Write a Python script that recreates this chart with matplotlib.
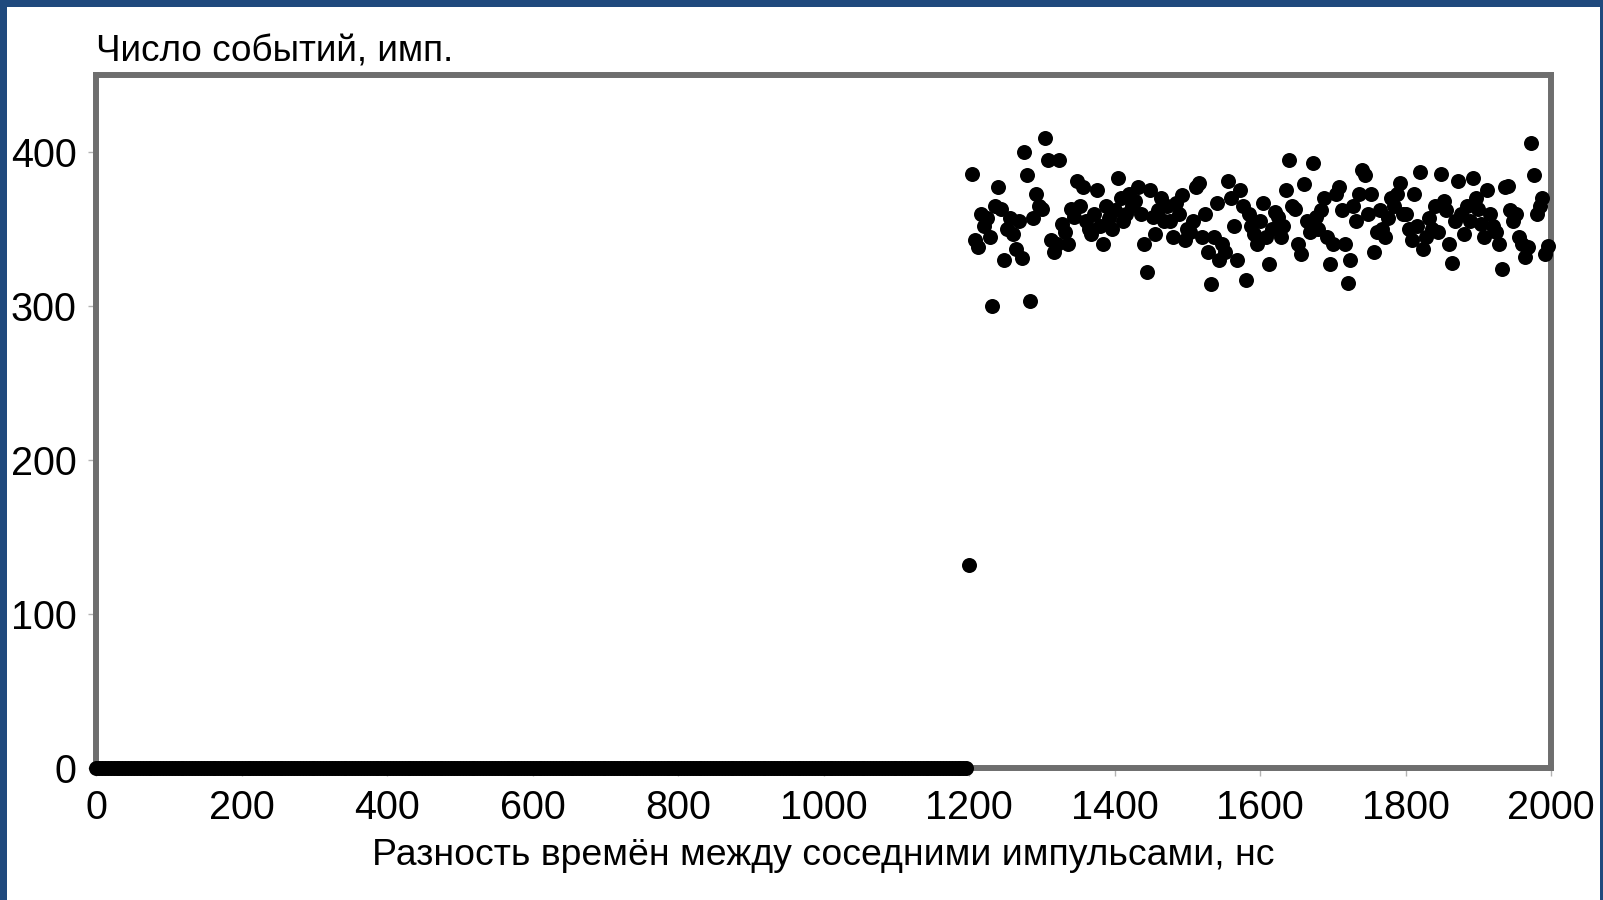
import numpy as np
import matplotlib.pyplot as plt
from matplotlib.patches import Rectangle

plt.rcParams['font.family'] = ['Liberation Sans', 'DejaVu Sans']

# bin width of the time-difference histogram, ns
bin_ns = 4

# empty bins below the dead time (0 .. 1196 ns)
x_zero = np.arange(0, 1200, bin_ns)
y_zero = np.zeros(len(x_zero))

# first bin after the dead time
x_edge = [1200]
y_edge = [132]

# counts in the bins 1204 .. 1996 ns
y_counts = [
    386, 343, 338, 360, 352, 357, 345, 300, 365, 377,
    363, 330, 350, 357, 347, 337, 355, 331, 400, 385,
    303, 357, 373, 365, 363, 409, 395, 343, 335, 340,
    395, 353, 348, 340, 363, 358, 381, 365, 377, 355,
    350, 347, 360, 375, 352, 340, 365, 357, 350, 362,
    383, 370, 355, 360, 373, 365, 368, 377, 360, 340,
    322, 375, 358, 347, 362, 370, 355, 365, 355, 345,
    367, 360, 372, 343, 350, 348, 355, 377, 380, 345,
    360, 335, 314, 345, 367, 330, 340, 335, 381, 370,
    352, 330, 375, 365, 317, 360, 352, 347, 340, 355,
    367, 345, 327, 350, 361, 358, 345, 352, 375, 395,
    365, 363, 340, 334, 379, 355, 348, 393, 358, 350,
    362, 370, 345, 327, 340, 373, 377, 362, 340, 315,
    330, 365, 355, 373, 388, 385, 360, 373, 335, 348,
    362, 350, 345, 357, 370, 365, 373, 380, 360, 360,
    350, 343, 373, 352, 387, 337, 345, 357, 350, 365,
    348, 386, 368, 362, 340, 328, 355, 381, 360, 347,
    365, 355, 383, 370, 363, 353, 345, 375, 360, 352,
    348, 340, 324, 377, 378, 362, 355, 360, 345, 340,
    332, 338, 406, 385, 360, 365, 370, 334, 339,
]
x_counts = 1204 + bin_ns * np.arange(len(y_counts))

x_ticks = [0, 200, 400, 600, 800, 1000, 1200, 1400, 1600, 1800, 2000]
y_ticks = [0, 100, 200, 300, 400]

fig = plt.figure(figsize=(16.03, 9.0), dpi=100)
fig.patch.set_facecolor('#1f497d')
fig.patches.append(Rectangle((7 / 1603, 0), 1593 / 1603, 893 / 900,
                             transform=fig.transFigure, facecolor='white',
                             edgecolor='none', zorder=-1))

ax = fig.add_axes([0.0600, 0.1467, 0.9077, 0.77])
ax.set_facecolor('white')

for xs, ys in [(x_zero, y_zero), (x_edge, y_edge), (x_counts, y_counts)]:
    ax.plot(xs, ys, 'o', color='black', ms=10.8, mec='none',
            clip_on=False, zorder=5)

ax.set_xlim(0, 2000)
ax.set_ylim(0, 450)
ax.set_xticks(x_ticks)
ax.set_yticks(y_ticks)
ax.tick_params(axis='both', length=6, width=1, color='#b3b3b3',
               labelsize=28.5)
ax.tick_params(axis='y', pad=8)
ax.tick_params(axis='x', pad=9)

for s in ax.spines.values():
    s.set_color('#6e6e6e')
    s.set_linewidth(4.3)

ax.set_xlabel('Разность времён между соседними импульсами, нс', fontsize=26.9, labelpad=8)
ax.text(0.0, 1.019, 'Число событий, имп.', transform=ax.transAxes,
        fontsize=26.6, ha='left', va='baseline')

fig.savefig('out.png', dpi=100, facecolor=fig.get_facecolor())
